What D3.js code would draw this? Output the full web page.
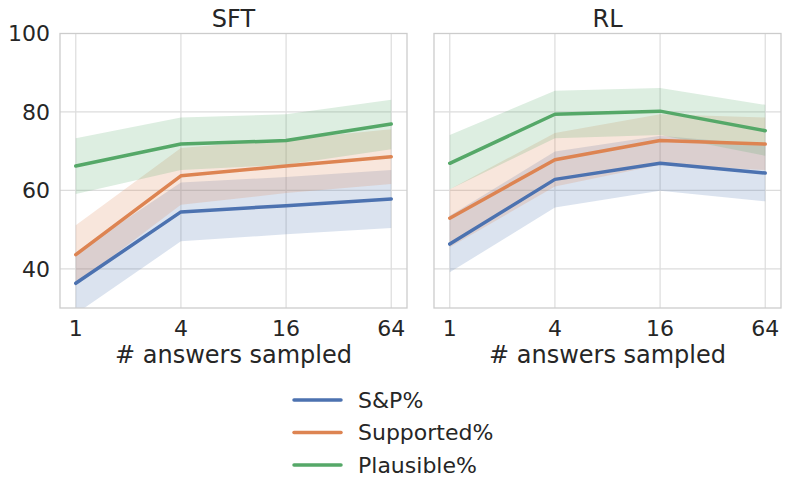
<!DOCTYPE html>
<html>
<head>
<meta charset="utf-8">
<script src="https://cdn.jsdelivr.net/npm/d3@7"></script>
<style>
  body { margin: 0; background: #fff; }
  text { font-family: "DejaVu Sans", sans-serif; fill: #262626; }
</style>
</head>
<body>
<svg id="chart" width="789" height="495"></svg>
<script>
// x values (number of answers sampled)
const sizes = [1, 4, 16, 64];
const seriesNames = ["S&P%", "Supported%", "Plausible%"];
const seriesColors = ["#4c72b0", "#dd8452", "#55a868"];
const yTicks = [40, 60, 80, 100];

// SFT panel: mean and band (low / high) per series
const sftMean = [
  [36.3, 54.5, 56.1, 57.8],
  [43.6, 63.7, 66.2, 68.6],
  [66.2, 71.8, 72.7, 76.9]
];
const sftLow = [
  [28.5, 47.0, 48.8, 50.4],
  [36.1, 56.3, 59.3, 61.6],
  [59.1, 65.2, 66.5, 70.5]
];
const sftHigh = [
  [44.0, 62.0, 63.4, 65.2],
  [51.1, 70.8, 73.0, 75.6],
  [73.3, 78.6, 79.4, 83.1]
];

// RL panel
const rlMean = [
  [46.3, 62.8, 66.9, 64.4],
  [52.9, 67.8, 72.7, 71.8],
  [66.9, 79.4, 80.2, 75.2]
];
const rlLow = [
  [39.1, 55.6, 59.9, 57.2],
  [45.5, 61.0, 66.5, 65.2],
  [60.3, 73.3, 74.1, 68.8]
];
const rlHigh = [
  [53.5, 69.9, 73.9, 71.6],
  [60.3, 74.6, 79.4, 78.6],
  [74.1, 85.4, 86.1, 81.8]
];

const svg = d3.select("#chart");
const plotTop = 33.5, plotBottom = 308;
const y = d3.scaleLinear().domain([30, 100]).range([plotBottom, plotTop]);

function panel(id, title, left, right, mean, low, high, showY) {
  // 5% margin on each side, like matplotlib
  const pad = (right - left) * 0.05 / 1.1;
  const x = d3.scaleLog().base(2).domain([1, 64]).range([left + pad, right - pad]);
  const g = svg.append("g");

  g.append("clipPath").attr("id", id)
    .append("rect").attr("x", left).attr("y", plotTop)
    .attr("width", right - left).attr("height", plotBottom - plotTop);

  // grid
  g.selectAll(".gy").data(yTicks).join("line")
    .attr("x1", left).attr("x2", right)
    .attr("y1", d => y(d)).attr("y2", d => y(d))
    .attr("stroke", "#dcdcdc").attr("stroke-width", 1.2);
  g.selectAll(".gx").data(sizes).join("line")
    .attr("x1", d => x(d)).attr("x2", d => x(d))
    .attr("y1", plotTop).attr("y2", plotBottom)
    .attr("stroke", "#dcdcdc").attr("stroke-width", 1.2);

  const area = d3.area()
    .x((d, i) => x(sizes[i]))
    .y0(d => y(d[0]))
    .y1(d => y(d[1]));
  const line = d3.line()
    .x((d, i) => x(sizes[i]))
    .y(d => y(d));

  const plot = g.append("g").attr("clip-path", `url(#${id})`);
  mean.forEach((m, s) => {
    const band = low[s].map((lo, i) => [lo, high[s][i]]);
    plot.append("path")
      .attr("d", area(band))
      .attr("fill", seriesColors[s])
      .attr("fill-opacity", 0.2);
  });
  mean.forEach((m, s) => {
    plot.append("path")
      .attr("d", line(m))
      .attr("fill", "none")
      .attr("stroke", seriesColors[s])
      .attr("stroke-width", 3.5)
      .attr("stroke-linecap", "round")
      .attr("stroke-linejoin", "round");
  });

  // frame
  g.append("rect")
    .attr("x", left).attr("y", plotTop)
    .attr("width", right - left).attr("height", plotBottom - plotTop)
    .attr("fill", "none").attr("stroke", "#cccccc").attr("stroke-width", 1.3);

  // tick labels
  g.selectAll(".tx").data(sizes).join("text")
    .attr("x", d => x(d)).attr("y", 336)
    .attr("text-anchor", "middle")
    .attr("font-size", "22px")
    .text(d3.format("d"));
  if (showY) {
    g.selectAll(".ty").data(yTicks).join("text")
      .attr("x", left - 10).attr("y", d => y(d))
      .attr("dy", "0.36em")
      .attr("text-anchor", "end")
      .attr("font-size", "22px")
      .text(d => d);
  }

  const cx = (left + right) / 2;
  g.append("text").attr("x", cx).attr("y", 26.5)
    .attr("text-anchor", "middle").attr("font-size", "24px").text(title);
  g.append("text").attr("x", cx).attr("y", 363)
    .attr("text-anchor", "middle").attr("font-size", "24px").text("# answers sampled");
}

panel("clipSft", "SFT", 60, 407, sftMean, sftLow, sftHigh, true);
panel("clipRl", "RL", 434, 781, rlMean, rlLow, rlHigh, false);

// legend
const legend = svg.append("g");
const rowY = d3.scalePoint().domain(seriesNames).range([400, 465]);
seriesNames.forEach((name, i) => {
  legend.append("line")
    .attr("x1", 294).attr("x2", 341)
    .attr("y1", rowY(name)).attr("y2", rowY(name))
    .attr("stroke", seriesColors[i]).attr("stroke-width", 3.5)
    .attr("stroke-linecap", "round");
  legend.append("text")
    .attr("x", 358).attr("y", rowY(name))
    .attr("dy", "0.36em")
    .attr("font-size", "22px")
    .text(name);
});
</script>
</body>
</html>
